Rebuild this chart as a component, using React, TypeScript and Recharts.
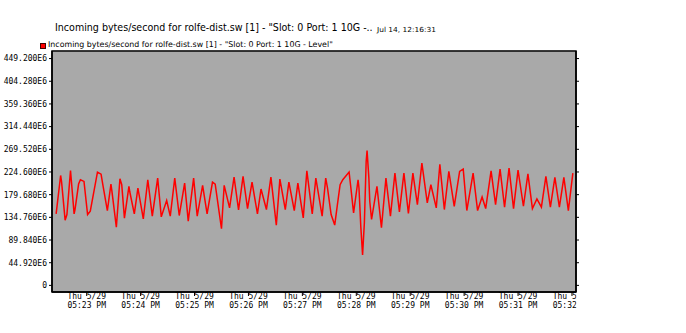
import React, { useLayoutEffect, useRef, useState } from 'react';
import { LineChart, Line, XAxis, YAxis, CartesianGrid, ReferenceArea } from 'recharts';

// time in seconds after 17:00:00 on Thu 5/29
const times = [
  1346, 1351, 1352, 1356, 1358, 1362, 1366, 1367, 1371, 1373, 1377, 1381, 1384, 1392, 1396, 1398,
  1403, 1407, 1408, 1413, 1417, 1419, 1422, 1427, 1428, 1433, 1437, 1443, 1448, 1453, 1459, 1463,
  1469, 1473, 1478, 1483, 1489, 1493, 1499, 1503, 1509, 1514, 1520, 1523, 1530, 1533, 1539, 1544,
  1549, 1554, 1559, 1564, 1570, 1574, 1580, 1585, 1591, 1595, 1601, 1605, 1611, 1615, 1621, 1625,
  1631, 1635, 1642, 1646, 1648, 1652, 1656, 1659, 1662, 1665, 1672, 1674, 1677, 1682, 1683, 1685,
  1687, 1689, 1691, 1692, 1694, 1695, 1697, 1703, 1708, 1713, 1718, 1723, 1728, 1733, 1738, 1743,
  1748, 1753, 1759, 1763, 1769, 1773, 1778, 1783, 1789, 1795, 1799, 1803, 1810, 1815, 1820, 1824,
  1830, 1835, 1840, 1845, 1850, 1855, 1860, 1866, 1871, 1876, 1881, 1886, 1891, 1896, 1901, 1906,
  1911, 1916, 1921,
];

// incoming bytes/second, in millions (E6)
const incoming = [
  141.7, 217.7, 205.9, 129.2, 140.3, 227.6, 141.7, 150.2, 200.7, 209.2, 205.9, 140.3, 146.9, 224.3, 220.3, 199.3,
  148.2, 200.7, 187.5, 115.4, 211.2, 199.3, 133.1, 196.1, 184.9, 141.7, 192.8, 131.8, 209.2, 137.1, 212.5, 135.8,
  167.9, 137.1, 212.5, 138.4, 202.6, 127.2, 212.5, 137.1, 198.0, 141.7, 204.6, 200.7, 112.2, 198.0, 153.5, 214.4,
  149.5, 215.8, 152.1, 204.6, 141.7, 190.8, 150.2, 214.4, 119.4, 210.5, 150.2, 204.6, 148.2, 202.6, 133.8, 226.9,
  141.7, 212.5, 137.1, 212.5, 192.8, 140.3, 119.4, 160.0, 199.3, 209.2, 224.3, 192.8, 143.6, 209.2, 192.8, 117.4,
  60.4, 123.9, 245.3, 266.9, 212.5, 166.6, 130.5, 196.1, 114.1, 212.5, 137.1, 222.3, 145.6, 222.3, 142.3, 222.3,
  160.0, 242.0, 163.3, 199.3, 153.5, 240.0, 150.2, 226.0, 156.7, 225.6, 230.2, 148.2, 222.3, 148.2, 175.1, 152.1,
  226.9, 160.0, 230.2, 154.8, 232.1, 152.1, 228.2, 156.7, 221.0, 152.1, 171.2, 154.8, 215.8, 154.8, 213.8, 154.8,
  213.8, 148.2, 222.3,
];

const yTicks = [0, 44.92, 89.84, 134.76, 179.68, 224.6, 269.52, 314.44, 359.36, 404.28, 449.2];
const xTicks = [1380, 1440, 1500, 1560, 1620, 1680, 1740, 1800, 1860, 1920];
const xTickDates = ['Thu 5/29', 'Thu 5/29', 'Thu 5/29', 'Thu 5/29', 'Thu 5/29', 'Thu 5/29', 'Thu 5/29', 'Thu 5/29', 'Thu 5/29', 'Thu 5/29'];
const xTickTimes = ['05:23 PM', '05:24 PM', '05:25 PM', '05:26 PM', '05:27 PM', '05:28 PM', '05:29 PM', '05:30 PM', '05:31 PM', '05:32 PM'];

const titleText = 'Incoming bytes/second for rolfe-dist.sw [1] - "Slot: 0 Port: 1 10G -..';
const dateText = 'Jul 14, 12:16:31';
const legendText = 'Incoming bytes/second for rolfe-dist.sw [1] - "Slot: 0 Port: 1 10G - Level"';

const X_MIN = 1341.4;
const X_MAX = 1924.5;
const Y_MIN = -13.1;
const Y_MAX = 464.2;

const data = times.map((t, i) => ({ t, v: incoming[i] }));

const MONO = '"DejaVu Sans Mono", "Liberation Mono", monospace';
const SANS = '"DejaVu Sans", sans-serif';

const fmtY = (v: number) => (v === 0 ? '0' : v.toFixed(3) + 'E6');

const FitText = ({ x, y, width, fontSize, children }: any) => {
  const ref = useRef<SVGTextElement>(null);
  const [s, setS] = useState(1);
  useLayoutEffect(() => {
    if (ref.current) {
      const w = ref.current.getComputedTextLength();
      if (w > 0) setS(width / w);
    }
  }, [width]);
  return (
    <text
      ref={ref}
      transform={`translate(${x},${y}) scale(${s},1)`}
      x={0}
      y={0}
      fontFamily={SANS}
      fontSize={fontSize}
      fill="#000"
    >
      {children}
    </text>
  );
};

const XTick = (props: any) => {
  const { x, y, payload } = props;
  const idx = xTicks.indexOf(payload.value);
  return (
    <g>
      <defs>
        <clipPath id={'xclip' + idx}>
          <rect x={0} y={0} width={576.5} height={333} />
        </clipPath>
      </defs>
      <g clipPath={'url(#xclip' + idx + ')'}>
        <text x={x} y={y + 1} textAnchor="middle" fontFamily={MONO} fontSize={8} fill="#000">
          {xTickDates[idx]}
        </text>
        <text x={x} y={y + 10} textAnchor="middle" fontFamily={MONO} fontSize={8} fill="#000">
          {xTickTimes[idx]}
        </text>
      </g>
    </g>
  );
};

export default function App() {
  return (
    <div style={{ position: 'absolute', left: 0, top: 0, width: 686, height: 333, background: '#fff' }}>
      <LineChart
        width={686}
        height={333}
        data={data}
        margin={{ top: 51, right: 100, bottom: 11, left: 0 }}
      >
        <CartesianGrid vertical={false} horizontal={true} fill="#a9a9a9" stroke="#c9c9c9" strokeWidth={1} />
        <XAxis
          dataKey="t"
          type="number"
          domain={[X_MIN, X_MAX]}
          ticks={xTicks}
          interval={0}
          allowDataOverflow
          height={30}
          tickSize={4}
          tickMargin={2}
          axisLine={{ stroke: '#000', strokeWidth: 1.5 }}
          tickLine={{ stroke: '#000' }}
          tick={<XTick />}
        />
        <YAxis
          yAxisId="left"
          type="number"
          domain={[Y_MIN, Y_MAX]}
          ticks={yTicks}
          interval={0}
          allowDataOverflow
          width={52}
          tickSize={3}
          tickMargin={2}
          tickFormatter={fmtY}
          axisLine={{ stroke: '#000', strokeWidth: 1.5 }}
          tickLine={{ stroke: '#000' }}
          tick={{ fontFamily: MONO, fontSize: 8, fill: '#000' }}
        />
        <YAxis
          yAxisId="right"
          orientation="right"
          type="number"
          domain={[Y_MIN, Y_MAX]}
          ticks={yTicks}
          interval={0}
          allowDataOverflow
          width={10}
          tickSize={3}
          tickFormatter={() => ''}
          axisLine={{ stroke: '#000', strokeWidth: 1.5 }}
          tickLine={{ stroke: '#000' }}
        />
        <ReferenceArea
          yAxisId="left"
          x1={X_MIN}
          x2={X_MAX}
          y1={Y_MIN}
          y2={Y_MAX}
          fill="none"
          stroke="#000"
          strokeWidth={1.5}
          ifOverflow="visible"
        />
        <Line
          yAxisId="left"
          type="linear"
          dataKey="v"
          stroke="#ff0000"
          strokeWidth={1.5}
          dot={false}
          activeDot={false}
          isAnimationActive={false}
        />
      </LineChart>
      <svg
        width={686}
        height={333}
        style={{ position: 'absolute', left: 0, top: 0, pointerEvents: 'none' }}
      >
        <FitText x={55} y={31} width={318} fontSize={11}>
          {titleText}
        </FitText>
        <FitText x={377} y={31.5} width={59} fontSize={7}>
          {dateText}
        </FitText>
        <rect x={40.5} y={43.5} width={5} height={5} fill="#ff0000" stroke="#400000" strokeWidth={1} />
        <FitText x={48} y={47} width={285} fontSize={8}>
          {legendText}
        </FitText>
      </svg>
    </div>
  );
}
